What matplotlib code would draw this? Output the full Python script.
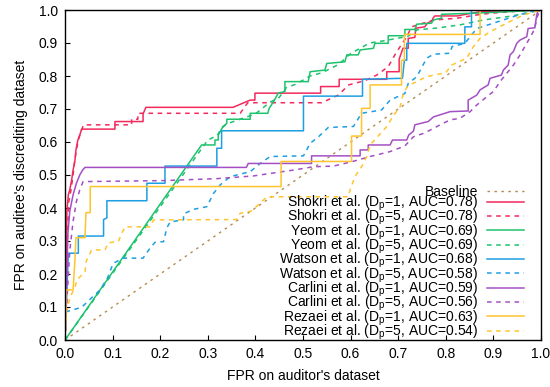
import numpy as np
import matplotlib
matplotlib.use("Agg")
import matplotlib.pyplot as plt

plt.rcParams['font.family'] = ['Liberation Sans', 'DejaVu Sans']
plt.rcParams['mathtext.default'] = 'regular'
plt.rcParams['font.size'] = 10

# ---- data (x = FPR auditor, y = FPR auditee) ----
shokri1 = [(0, 0), (0.002, 0.12), (0.003, 0.27), (0.004, 0.39), (0.007, 0.44), (0.010, 0.455),
           (0.014, 0.485), (0.017, 0.515), (0.021, 0.545), (0.023, 0.576), (0.027, 0.606),
           (0.031, 0.621), (0.035, 0.639), (0.105, 0.639), (0.105, 0.662), (0.164, 0.662),
           (0.164, 0.685), (0.170, 0.705), (0.353, 0.705), (0.389, 0.727), (0.399, 0.727),
           (0.399, 0.748), (0.537, 0.748), (0.537, 0.768), (0.576, 0.768), (0.576, 0.790),
           (0.676, 0.790), (0.676, 0.813), (0.702, 0.813), (0.702, 0.851), (0.710, 0.884),
           (0.721, 0.884), (0.721, 0.914), (0.735, 0.917), (0.737, 0.945), (0.756, 0.949),
           (0.761, 0.960), (0.771, 0.967), (0.773, 0.975), (0.777, 0.982), (0.824, 0.982),
           (0.872, 0.995), (1.0, 1.0)]
shokri5 = [(0, 0), (0.003, 0.10), (0.005, 0.30), (0.008, 0.42), (0.012, 0.45), (0.017, 0.50),
           (0.021, 0.55), (0.027, 0.60), (0.033, 0.63), (0.039, 0.652), (0.140, 0.652),
           (0.140, 0.669), (0.153, 0.669), (0.153, 0.687), (0.368, 0.687), (0.384, 0.719),
           (0.539, 0.719), (0.574, 0.742), (0.596, 0.773), (0.630, 0.786), (0.655, 0.803),
           (0.679, 0.828), (0.693, 0.864), (0.704, 0.889), (0.718, 0.919), (0.728, 0.949),
           (0.752, 0.960), (0.777, 0.970), (0.823, 0.975), (0.865, 0.985), (0.893, 0.990),
           (0.956, 0.997), (1.0, 1.0)]
yeom1 = [(0, 0), (0.287, 0.591), (0.315, 0.591), (0.315, 0.606), (0.322, 0.606), (0.322, 0.621),
         (0.330, 0.642), (0.340, 0.657), (0.340, 0.669), (0.389, 0.669), (0.389, 0.687),
         (0.426, 0.687), (0.429, 0.702), (0.438, 0.722), (0.448, 0.748), (0.462, 0.753),
         (0.462, 0.783), (0.511, 0.783), (0.515, 0.813), (0.546, 0.818), (0.550, 0.838),
         (0.588, 0.843), (0.592, 0.864), (0.616, 0.864), (0.620, 0.879), (0.648, 0.884),
         (0.651, 0.899), (0.679, 0.899), (0.679, 0.922), (0.714, 0.922), (0.714, 0.941),
         (0.735, 0.941), (0.739, 0.957), (0.770, 0.960), (0.774, 0.970), (0.791, 0.975),
         (0.791, 0.987), (0.872, 0.991), (0.962, 0.997), (1.0, 1.0)]
yeom5 = [(0, 0), (0.300, 0.606), (0.320, 0.620), (0.330, 0.645), (0.340, 0.655), (0.370, 0.670),
         (0.390, 0.680), (0.400, 0.685), (0.430, 0.720), (0.450, 0.735), (0.465, 0.765),
         (0.485, 0.775), (0.515, 0.800), (0.540, 0.810), (0.575, 0.835), (0.600, 0.868),
         (0.640, 0.900), (0.667, 0.906), (0.720, 0.920), (0.740, 0.940), (0.780, 0.945),
         (0.830, 0.955), (0.880, 0.970), (0.930, 0.980), (0.970, 0.990), (1.0, 1.0)]
watson1 = [(0, 0), (0.004, 0.15), (0.007, 0.263), (0.028, 0.263), (0.028, 0.315), (0.081, 0.315),
           (0.081, 0.365), (0.088, 0.370), (0.088, 0.422), (0.172, 0.422), (0.172, 0.475),
           (0.210, 0.475), (0.210, 0.527), (0.319, 0.527), (0.319, 0.581), (0.329, 0.581),
           (0.329, 0.634), (0.501, 0.634), (0.501, 0.739), (0.625, 0.739), (0.625, 0.790),
           (0.709, 0.793), (0.713, 0.848), (0.718, 0.848), (0.718, 0.899), (0.840, 0.899),
           (0.840, 0.949), (0.854, 0.949), (0.854, 1.0), (1.0, 1.0)]
watson5 = [(0, 0), (0.003, 0.086), (0.035, 0.099), (0.050, 0.120), (0.074, 0.152), (0.090, 0.190),
           (0.101, 0.232), (0.122, 0.248), (0.164, 0.248), (0.176, 0.273), (0.189, 0.296),
           (0.207, 0.298), (0.214, 0.340), (0.221, 0.358), (0.249, 0.364), (0.249, 0.382),
           (0.270, 0.396), (0.298, 0.404), (0.312, 0.444), (0.326, 0.470), (0.347, 0.495),
           (0.389, 0.510), (0.410, 0.535), (0.431, 0.556), (0.501, 0.558), (0.515, 0.596),
           (0.532, 0.615), (0.553, 0.644), (0.606, 0.647), (0.623, 0.687), (0.665, 0.697),
           (0.683, 0.727), (0.714, 0.747), (0.721, 0.777), (0.739, 0.798), (0.760, 0.854),
           (0.774, 0.866), (0.809, 0.869), (0.813, 0.889), (0.840, 0.899), (0.865, 0.944),
           (0.900, 0.960), (0.942, 0.980), (0.977, 0.995), (1.0, 1.0)]
carlini1 = [(0, 0), (0.003, 0.15), (0.006, 0.32), (0.010, 0.39), (0.017, 0.44), (0.024, 0.475),
            (0.031, 0.500), (0.037, 0.515), (0.042, 0.523), (0.381, 0.523), (0.385, 0.535),
            (0.518, 0.535), (0.518, 0.558), (0.620, 0.558), (0.620, 0.576), (0.637, 0.576),
            (0.637, 0.591), (0.683, 0.591), (0.688, 0.606), (0.718, 0.606), (0.722, 0.621),
            (0.732, 0.633), (0.735, 0.652), (0.763, 0.662), (0.774, 0.676), (0.809, 0.692),
            (0.847, 0.694), (0.847, 0.727), (0.865, 0.742), (0.872, 0.758), (0.889, 0.773),
            (0.893, 0.793), (0.917, 0.803), (0.921, 0.818), (0.931, 0.833), (0.935, 0.864),
            (0.942, 0.874), (0.949, 0.899), (0.956, 0.909), (0.970, 0.919), (0.973, 0.944),
            (0.987, 0.946), (0.991, 0.985), (0.994, 1.0), (1.0, 1.0)]
carlini5 = [(0, 0), (0.004, 0.12), (0.010, 0.27), (0.017, 0.36), (0.024, 0.42), (0.031, 0.455),
            (0.038, 0.480), (0.206, 0.483), (0.319, 0.489), (0.395, 0.497), (0.480, 0.515),
            (0.522, 0.525), (0.564, 0.527), (0.602, 0.540), (0.641, 0.556), (0.683, 0.571),
            (0.714, 0.588), (0.732, 0.616), (0.753, 0.626), (0.767, 0.636), (0.788, 0.652),
            (0.809, 0.667), (0.830, 0.672), (0.851, 0.692), (0.865, 0.712), (0.886, 0.737),
            (0.900, 0.753), (0.914, 0.783), (0.928, 0.808), (0.942, 0.833), (0.956, 0.864),
            (0.970, 0.899), (0.980, 0.924), (0.987, 0.944), (0.991, 0.975), (0.998, 1.0),
            (1.0, 1.0)]
rezaei1 = [(0, 0), (0.002, 0.076), (0.002, 0.152), (0.017, 0.152), (0.021, 0.247), (0.023, 0.310),
           (0.042, 0.310), (0.044, 0.386), (0.053, 0.386), (0.053, 0.465), (0.454, 0.465),
           (0.454, 0.541), (0.602, 0.541), (0.602, 0.618), (0.623, 0.618), (0.623, 0.702),
           (0.641, 0.702), (0.641, 0.773), (0.707, 0.773), (0.707, 0.848), (0.713, 0.848),
           (0.713, 0.926), (0.872, 0.926), (0.872, 1.0), (1.0, 1.0)]
rezaei5 = [(0, 0), (0.003, 0.09), (0.011, 0.131), (0.021, 0.160), (0.025, 0.182), (0.042, 0.207),
           (0.045, 0.240), (0.056, 0.273), (0.084, 0.273), (0.091, 0.295), (0.112, 0.298),
           (0.119, 0.323), (0.126, 0.343), (0.179, 0.343), (0.186, 0.364), (0.360, 0.365),
           (0.368, 0.384), (0.390, 0.390), (0.410, 0.414), (0.424, 0.434), (0.595, 0.434),
           (0.599, 0.455), (0.609, 0.495), (0.623, 0.525), (0.634, 0.556), (0.641, 0.591),
           (0.676, 0.647), (0.690, 0.680), (0.704, 0.707), (0.711, 0.748), (0.720, 0.770),
           (0.760, 0.798), (0.800, 0.810), (0.812, 0.833), (0.844, 0.854), (0.858, 0.889),
           (0.872, 0.914), (0.893, 0.934), (0.914, 0.950), (0.942, 0.970), (0.963, 0.985),
           (1.0, 1.0)]
baseline = [(0, 0), (1, 1)]

methods = ['Shokri', 'Yeom', 'Watson', 'Carlini', 'Rezaei']
auc_dp1 = [0.78, 0.69, 0.68, 0.59, 0.63]
auc_dp5 = [0.78, 0.69, 0.58, 0.56, 0.54]
curves_dp1 = [shokri1, yeom1, watson1, carlini1, rezaei1]
curves_dp5 = [shokri5, yeom5, watson5, carlini5, rezaei5]
colors = ['#f22a5c', '#1cc26c', '#1e9ee3', '#a44fc4', '#ffc42e']

fig = plt.figure(figsize=(5.5, 3.87), dpi=100)
ax = fig.add_axes([65 / 550, 47 / 387, 476 / 550, 330 / 387])

bx, by = np.array(baseline).T
ax.plot(bx, by, color='#b48a50', lw=1.0, ls=(0, (1.8, 3.2)), label='Baseline')

for name, c1, c5, a1, a5, col in zip(methods, curves_dp1, curves_dp5, auc_dp1, auc_dp5, colors):
    x1, y1 = np.array(c1).T
    x5, y5 = np.array(c5).T
    ax.plot(x1, y1, color=col, lw=1.1,
            label=f'{name} et al. (D$_p$=1, AUC={a1:.2f})')
    ax.plot(x5, y5, color=col, lw=1.1, ls=(0, (3, 3)),
            label=f'{name} et al. (D$_p$=5, AUC={a5:.2f})')

ax.set_xlim(0, 1)
ax.set_ylim(0, 1)
ticks = np.arange(0, 1.01, 0.1)
ax.set_xticks(ticks)
ax.set_yticks(ticks)
ax.set_xticklabels([f'{t:.1f}' for t in ticks])
ax.set_yticklabels([f'{t:.1f}' for t in ticks])
ax.tick_params(direction='in', length=3.6, width=0.8, labelsize=10, pad=5)
for s in ax.spines.values():
    s.set_linewidth(1.0)

ax.set_xlabel("FPR on auditor's dataset", fontsize=10, labelpad=6)
ax.set_ylabel("FPR on auditee's discrediting dataset", fontsize=10, labelpad=8)

ax.legend(loc='lower right', frameon=False, markerfirst=False, fontsize=10,
          handlelength=2.7, handletextpad=0.6, labelspacing=-0.36,
          borderaxespad=0.3, bbox_to_anchor=(0.985, -0.035))

fig.savefig('out.png', dpi=100)
